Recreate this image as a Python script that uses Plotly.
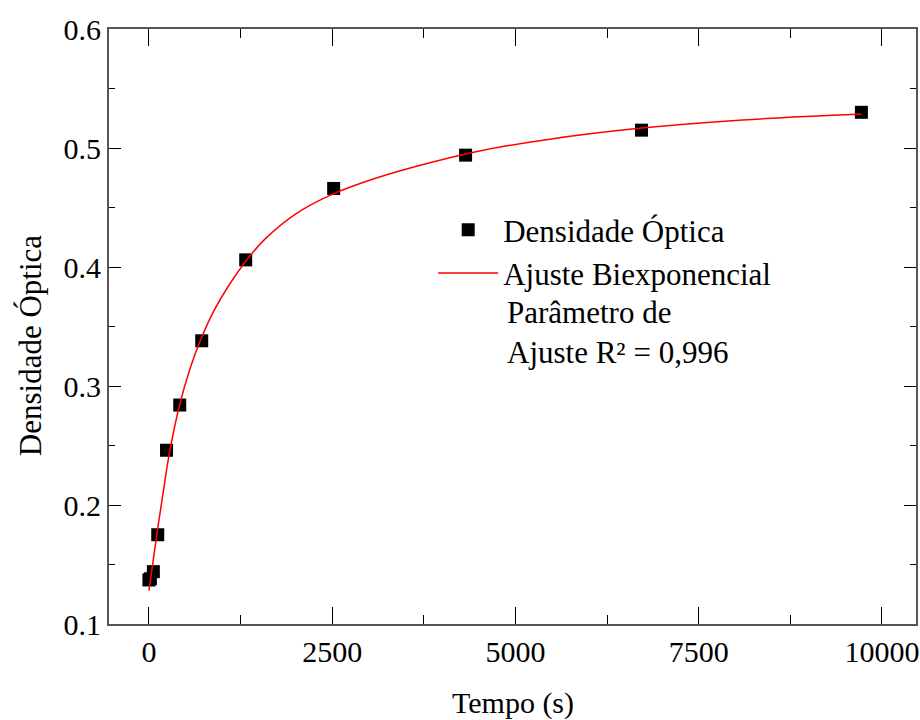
import plotly.graph_objects as go

# Measured data (time in s, optical density)
tempo = [0, 20, 60, 120, 240, 420, 720, 1320, 2520, 4320, 6720, 9720]
densidade = [0.137, 0.138, 0.144, 0.175, 0.246, 0.284, 0.338, 0.406, 0.466, 0.494, 0.515, 0.530]

# Biexponential fit curve
fit_t = [0, 100, 200, 280, 420, 560, 700, 880, 1100, 1380, 1600, 2000, 2500, 3060, 3740, 4510, 5420, 6690, 8100, 9720]
fit_d = [0.128, 0.172, 0.213, 0.244, 0.2845, 0.3145, 0.338, 0.3625, 0.3855, 0.4095, 0.4245, 0.4445, 0.461,
         0.4739, 0.4861, 0.4975, 0.507, 0.5165, 0.5235, 0.5285]

x_ticks = [0, 2500, 5000, 7500, 10000]
x_labels = ["0", "2500", "5000", "7500", "10000"]
y_ticks = [0.1, 0.2, 0.3, 0.4, 0.5, 0.6]

FONT = "Liberation Serif, Times New Roman, Times, serif"

fig = go.Figure()
fig.add_trace(go.Scatter(
    x=tempo, y=densidade, mode="markers", name="Densidade Óptica",
    marker=dict(symbol="square", size=13, color="black", line=dict(width=0)),
))
fig.add_trace(go.Scatter(
    x=fit_t, y=fit_d, mode="lines", name="Ajuste Biexponencial",
    line=dict(color="red", width=1.5, shape="spline", smoothing=1.0),
))

axis_common = dict(
    showline=True, linecolor="#555555", linewidth=2, mirror="ticks",
    ticks="inside", tickcolor="black", tickwidth=1,
    showgrid=False, zeroline=False,
    tickfont=dict(family=FONT, size=30, color="black"),
)

fig.update_xaxes(
    range=[-545, 10465], tickvals=x_ticks, ticktext=x_labels, ticklen=17,
    minor=dict(dtick=1250, ticks="inside", ticklen=9, tickcolor="black", tickwidth=1),
    **axis_common,
)
fig.update_yaxes(
    range=[0.1, 0.6], tickvals=y_ticks, ticklen=12, tickformat=".1f",
    minor=dict(dtick=0.05, ticks="inside", ticklen=6, tickcolor="black", tickwidth=1),
    **axis_common,
)

fig.add_annotation(
    text="Tempo (s)", xref="paper", yref="paper", x=0.5, y=(624 - 703) / 595,
    xanchor="center", yanchor="middle", showarrow=False,
    font=dict(family=FONT, size=30, color="black"),
)
fig.add_annotation(
    text="Densidade Óptica", xref="paper", yref="paper", x=(30 - 109) / 809,
    y=(624 - 346) / 595, textangle=-90,
    xanchor="center", yanchor="middle", showarrow=False,
    font=dict(family=FONT, size=31, color="black"),
)
fig.add_annotation(
    text="Parâmetro de<br>Ajuste R² = 0,996", xref="paper", yref="paper",
    x=(506 - 109) / 809, y=(624 - 332) / 595, align="left",
    xanchor="left", yanchor="middle", showarrow=False,
    font=dict(family=FONT, size=31, color="black"),
)

fig.update_layout(
    width=920, height=720,
    margin=dict(l=109, r=2, t=29, b=96),
    paper_bgcolor="white", plot_bgcolor="white",
    font=dict(family=FONT, size=30, color="black"),
    legend=dict(
        x=(434 - 109) / 809, y=(624 - 203) / 595, xanchor="left", yanchor="top",
        bgcolor="rgba(0,0,0,0)", itemwidth=60, tracegroupgap=0,
        font=dict(family=FONT, size=31, color="black"),
    ),
)

fig.write_html("out.html")
